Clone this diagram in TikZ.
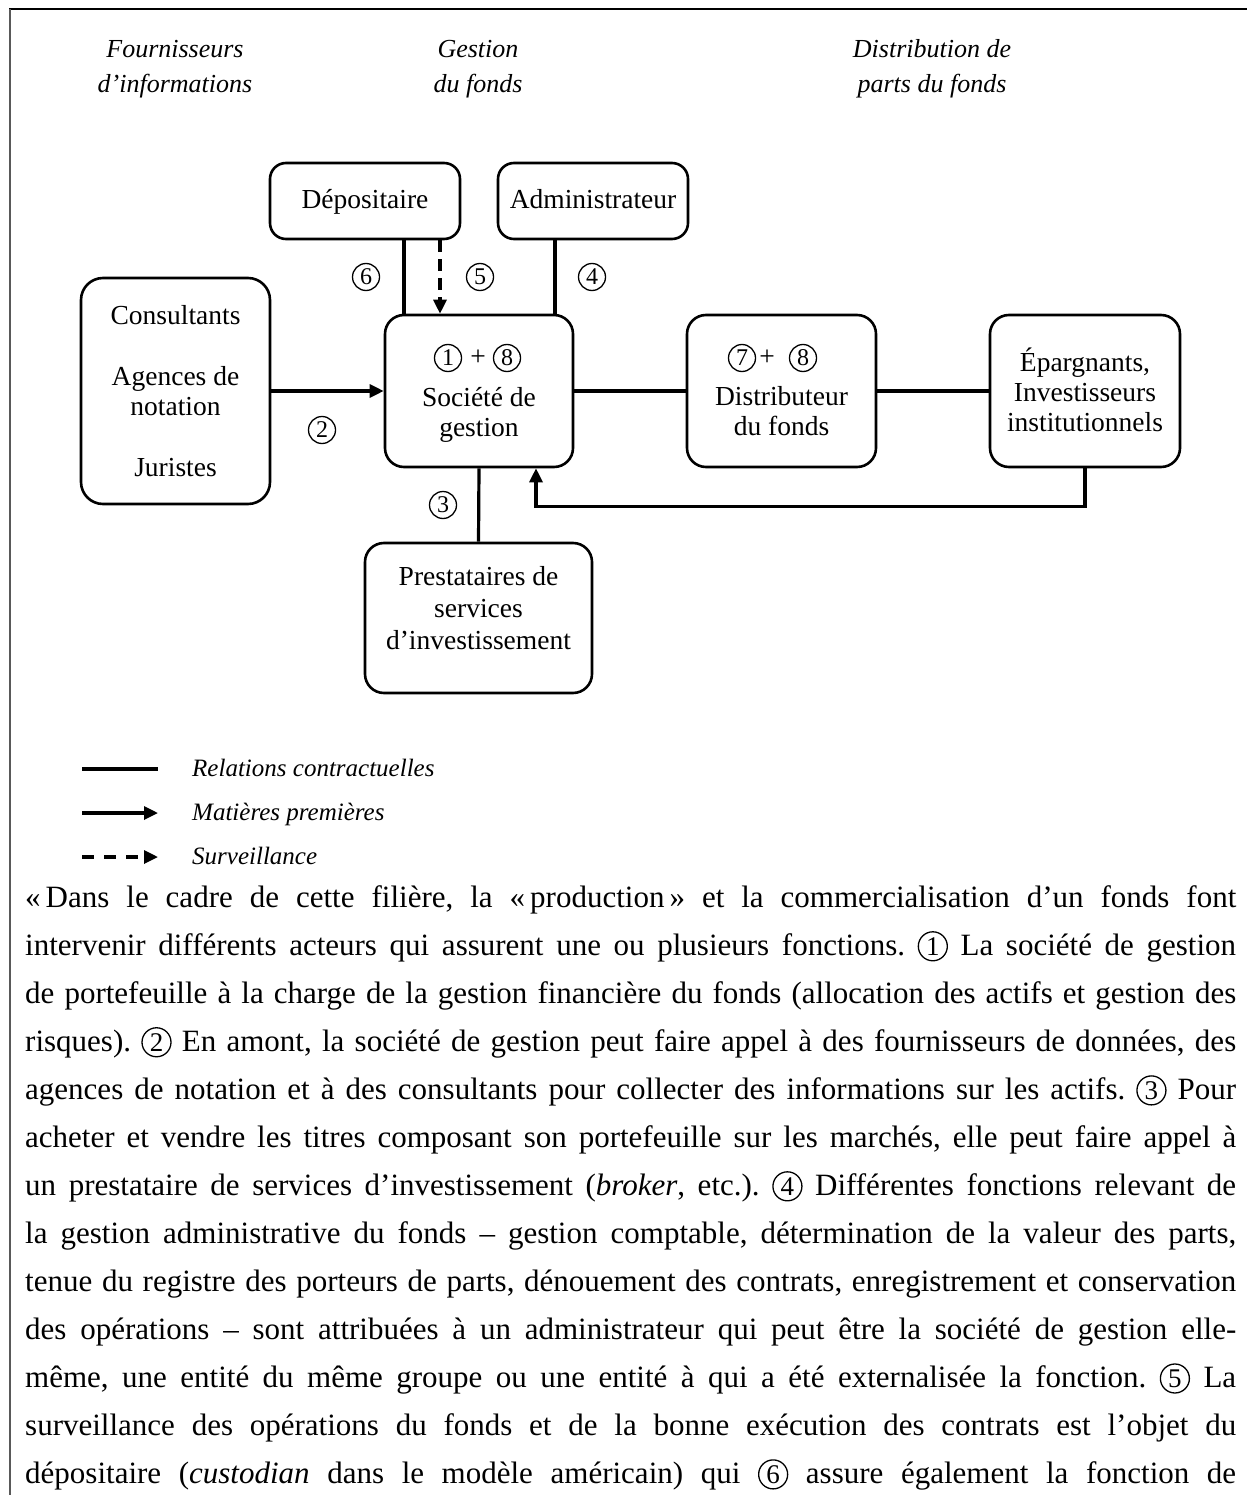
\documentclass[tikz,border=0pt]{standalone}
\usepackage{fontspec}
\setmainfont{Liberation Serif}
\usetikzlibrary{arrows.meta}
\tikzset{
  box/.style={draw, line width=2.6pt, rounded corners=16pt, inner sep=0pt},
  conn/.style={line width=3.2pt},
  arr/.style={conn, -{Triangle[length=14pt,width=13pt]}},
  dasharr/.style={arr, dash pattern=on 12pt off 7pt},
  cnode/.style={circle, draw, line width=1.3pt, inner sep=0pt, minimum size=27pt, font=\fontsize{24}{24}\selectfont},
  boxtext/.style={anchor=base, inner sep=0pt, font=\fontsize{27.5}{30}\selectfont},
  head/.style={anchor=base, inner sep=0pt, font=\fontsize{26}{30}\selectfont\itshape},
  legtext/.style={anchor=base west, inner sep=0pt, font=\fontsize{25}{30}\selectfont\itshape},
}
\newcommand\cnum[1]{\tikz[baseline=(cnx.base)]\node[circle,draw,line width=1.3pt,inner sep=0pt,minimum size=29pt,font=\fontsize{27}{27}\selectfont] (cnx) {#1};}
\newcommand\bl[1]{\hbox to\hsize{#1}}
\begin{document}
\begin{tikzpicture}[x=1pt,y=-1pt]
\fill[white] (0,0) rectangle (1247,1495);
\useasboundingbox (0,0) rectangle (1247,1495);
% frame
\draw[line width=2.2pt] (9,9) -- (1247,9);
\draw[line width=1.6pt, black!65] (10,9) -- (10,1495);
% headers
\node[head] (h1a) at (175,58) {Fournisseurs};
\node[head] (h1b) at (175,93) {d’informations};
\node[head] (h2a) at (478,58) {Gestion};
\node[head] (h2b) at (478,93) {du fonds};
\node[head] (h3a) at (932,58) {Distribution de};
\node[head] (h3b) at (932,93) {parts du fonds};
% boxes
\node[box, minimum width=190pt, minimum height=76pt] (dep) at (365,201) {};
\node[box, minimum width=190pt, minimum height=76pt] (adm) at (593,201) {};
\node[box, rounded corners=22pt, minimum width=189pt, minimum height=226pt] (cons) at (175.5,391) {};
\node[box, rounded corners=19pt, minimum width=188pt, minimum height=152pt] (soc) at (479,391) {};
\node[box, rounded corners=19pt, minimum width=189pt, minimum height=152pt] (dist) at (781.5,391) {};
\node[box, rounded corners=19pt, minimum width=190pt, minimum height=152pt] (epa) at (1085,391) {};
\node[box, rounded corners=19pt, minimum width=227pt, minimum height=150pt] (pre) at (478.5,618) {};
% box texts
\node[boxtext] (depT) at (365,209) {Dépositaire};
\node[boxtext] (admT) at (593,209) {Administrateur};
\node[boxtext] (consT1) at (175.5,324) {Consultants};
\node[boxtext] (consT2) at (175.5,385) {Agences de};
\node[boxtext] (consT3) at (175.5,415) {notation};
\node[boxtext] (consT4) at (175.5,476) {Juristes};
\node[cnode] (s1) at (448,358) {1};
\node[boxtext, anchor=center] (sp) at (478,358) {+};
\node[cnode] (s8) at (507,358) {8};
\node[boxtext] (socT1) at (479,406) {Société de};
\node[boxtext] (socT2) at (479,436) {gestion};
\node[cnode] (d7) at (742,358) {7};
\node[boxtext, anchor=center] (dp) at (767,358) {+};
\node[cnode] (d8) at (803,358) {8};
\node[boxtext] (distT1) at (781.5,405) {Distributeur};
\node[boxtext] (distT2) at (781.5,435) {du fonds};
\node[boxtext] (epaT1) at (1085,371) {Épargnants,};
\node[boxtext] (epaT2) at (1085,401) {Investisseurs};
\node[boxtext] (epaT3) at (1085,431) {institutionnels};
\node[boxtext] (preT1) at (478.5,585) {Prestataires de};
\node[boxtext] (preT2) at (478.5,617) {services};
\node[boxtext] (preT3) at (478.5,649) {d’investissement};
% connectors
\coordinate (dA) at ([xshift=39pt]dep.south);
\coordinate (dB) at ([xshift=75pt]dep.south);
\coordinate (aA) at ([xshift=-38pt]adm.south);
\coordinate (rS) at ([xshift=57pt]soc.south);
\draw[conn] (dA) -- (dA |- soc.north);
\draw[dasharr] (dB) -- (dB |- soc.north);
\draw[conn] (aA) -- (aA |- soc.north);
\draw[arr] (cons.east) -- (soc.west);
\draw[conn] (soc.east) -- (dist.west);
\draw[conn] (dist.east) -- (epa.west);
\draw[conn] (soc.south) -- (pre.north);
\draw[arr] (epa.south) -- ++(0,38) -| (rS);
% circled labels
\node[cnode] (n6) at (366,277) {6};
\node[cnode] (n5) at (480,277) {5};
\node[cnode] (n4) at (592,277) {4};
\node[cnode] (n2) at (322,430) {2};
\node[cnode] (n3) at (443,505) {3};
% legend
\coordinate (l1a) at (82,769); \coordinate (l1b) at (158,769);
\coordinate (l2a) at (82,813); \coordinate (l2b) at (158,813);
\coordinate (l3a) at (82,857); \coordinate (l3b) at (158,857);
\draw[line width=4.5pt] (l1a) -- (l1b);
\draw[arr] (l2a) -- (l2b);
\draw[arr, dash pattern=on 12pt off 10pt] (l3a) -- (l3b);
\node[legtext] (lt1) at (192,776) {Relations contractuelles};
\node[legtext] (lt2) at (192,820) {Matières premières};
\node[legtext] (lt3) at (192,864) {Surveillance};
% body text
\node[anchor=north west, inner sep=0pt, text width=1211pt, align=justify, font=\fontsize{31}{48}\selectfont] (body) at (25,877) {\spaceskip=0pt\xspaceskip=0pt\frenchspacing
\bl{\rule{0pt}{30pt}«\hspace{5pt}Dans le cadre de cette filière, la «\hspace{5pt}production\hspace{5pt}» et la commercialisation d’un fonds font}
\bl{intervenir différents acteurs qui assurent une ou plusieurs fonctions. \cnum{1} La société de gestion}
\bl{de portefeuille à la charge de la gestion financière du fonds (allocation des actifs et gestion des}
\bl{risques). \cnum{2} En amont, la société de gestion peut faire appel à des fournisseurs de données, des}
\bl{agences de notation et à des consultants pour collecter des informations sur les actifs. \cnum{3} Pour}
\bl{acheter et vendre les titres composant son portefeuille sur les marchés, elle peut faire appel à}
\bl{un prestataire de services d’investissement (\textit{broker}, etc.). \cnum{4} Différentes fonctions relevant de}
\bl{la gestion administrative du fonds – gestion comptable, détermination de la valeur des parts,}
\bl{tenue du registre des porteurs de parts, dénouement des contrats, enregistrement et conservation}
\bl{des opérations – sont attribuées à un administrateur qui peut être la société de gestion elle-}
\bl{même, une entité du même groupe ou une entité à qui a été externalisée la fonction. \cnum{5} La}
\bl{surveillance des opérations du fonds et de la bonne exécution des contrats est l’objet du}
\bl{dépositaire (\textit{custodian} dans le modèle américain) qui \cnum{6} assure également la fonction de}};
\end{tikzpicture}
\end{document}
